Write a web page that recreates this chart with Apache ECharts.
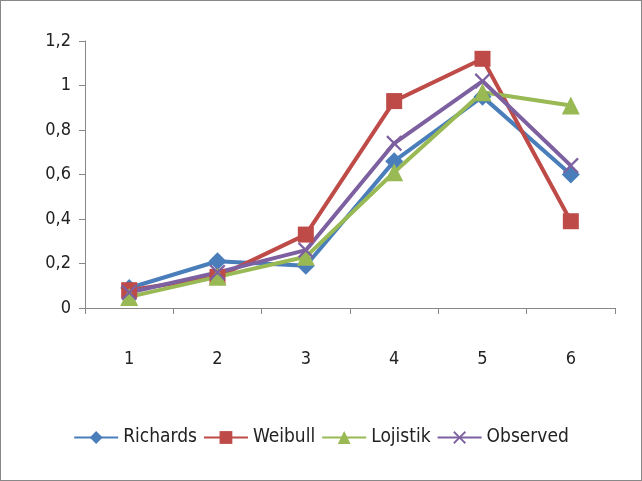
<!DOCTYPE html>
<html>
<head>
<meta charset="utf-8">
<script src="https://cdn.jsdelivr.net/npm/echarts@6/dist/echarts.min.js"></script>
<style>
  html, body { margin: 0; padding: 0; background: #fff; }
  #chart { width: 640px; height: 479px; border: 1px solid #888; }
</style>
</head>
<body>
<div id="chart"></div>
<script>
let categories = ['1', '2', '3', '4', '5', '6']
let richards = [0.09, 0.21, 0.19, 0.66, 0.95, 0.60]
let weibull = [0.08, 0.14, 0.33, 0.93, 1.12, 0.39]
let lojistik = [0.05, 0.14, 0.23, 0.61, 0.97, 0.91]
let observed = [0.07, 0.16, 0.26, 0.74, 1.02, 0.64]
let yTicks = ['0', '0,2', '0,4', '0,6', '0,8', '1', '1,2']

let font = '"DejaVu Sans Condensed", "Liberation Sans", sans-serif'
let crossPath = 'path://M1,0L5,4L9,0L10,1L6,5L10,9L9,10L5,6L1,10L0,9L4,5L0,1Z'

function makeSeries(name, data, color, symbol, size) {
    return {
        name: name,
        type: 'line',
        data: data,
        symbol: symbol,
        symbolSize: size,
        lineStyle: { color: color, width: 4 },
        itemStyle: { color: color },
        z: 2
    }
}

let chart = echarts.init(document.getElementById('chart'))
chart.setOption({
    animation: false,
    textStyle: { fontFamily: font },
    grid: { left: 84, right: 26, top: 40, bottom: 172 },
    legend: {
        bottom: 28,
        itemWidth: 44,
        itemHeight: 16,
        itemGap: 6,
        textStyle: { fontSize: 19, color: '#222', fontFamily: font },
        data: ['Richards', 'Weibull', 'Lojistik', 'Observed']
    },
    xAxis: {
        type: 'category',
        data: categories,
        boundaryGap: true,
        axisLine: { lineStyle: { color: '#888' } },
        axisTick: { show: true, length: 6, lineStyle: { color: '#888' } },
        axisLabel: { color: '#222', fontSize: 18, margin: 42 }
    },
    yAxis: {
        type: 'value',
        min: 0,
        max: 1.2,
        interval: 0.2,
        splitLine: { show: false },
        axisLine: { show: true, lineStyle: { color: '#888' } },
        axisTick: { show: true, length: 6, lineStyle: { color: '#888' } },
        axisLabel: {
            color: '#222',
            fontSize: 18,
            margin: 14,
            formatter: (v) => yTicks[Math.round(v / 0.2)]
        }
    },
    series: [
        makeSeries('Richards', richards, '#4a7ebb', 'diamond', 18),
        makeSeries('Weibull', weibull, '#be4b48', 'rect', 16),
        makeSeries('Lojistik', lojistik, '#98b954', 'triangle', 18),
        makeSeries('Observed', observed, '#7d60a0', crossPath, 16)
    ]
})
</script>
</body>
</html>
